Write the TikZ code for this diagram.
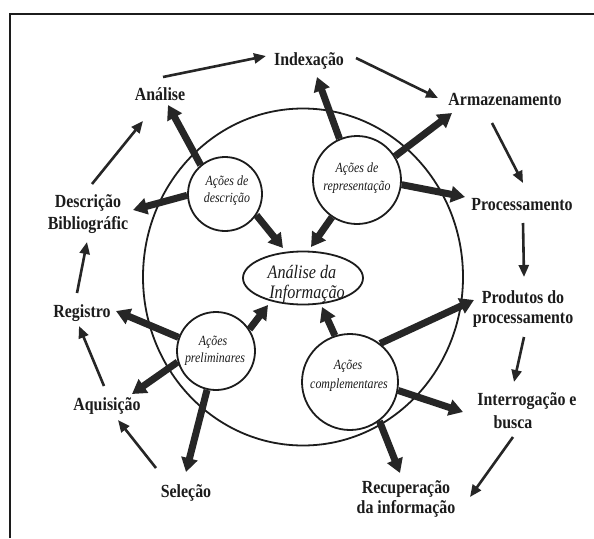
\documentclass[tikz,border=0pt]{standalone}
\usepackage{fontspec}
\setmainfont{Liberation Serif}
\newfontfamily\lblfont{Liberation Serif}[FakeStretch=0.86,BoldFont={Liberation Serif Bold}]
\newfontfamily\itlfont{Liberation Serif Italic}[FakeStretch=0.85]
\usetikzlibrary{arrows.meta,shapes.geometric}
\definecolor{ink}{HTML}{1C1C1C}
\definecolor{arr}{HTML}{262626}
\begin{document}
\begin{tikzpicture}[x=1pt,y=-1pt,
  lbl/.style={font=\lblfont\bfseries\fontsize{18.5}{21}\selectfont, inner sep=0pt, anchor=base, text=ink},
  itl/.style={font=\itlfont\fontsize{14}{17}\selectfont, inner sep=0pt, anchor=base, text=ink},
  itlbig/.style={font=\itlfont\fontsize{19}{20}\selectfont, inner sep=0pt, anchor=base, text=ink},
  ring/.style={draw=ink, line width=1.8pt, circle, inner sep=0pt},
  thinarr/.style={draw=arr, line width=2.6pt, -{Triangle[length=12pt,width=10pt]}},
  thickarr/.style={draw=arr, line width=7pt, -{Triangle[length=14pt,width=16pt]}}
]
\useasboundingbox (0,0) rectangle (594,538);
\fill[white] (0,0) rectangle (594,538);
% frame
\draw[ink, line width=2pt] (10,538) -- (10,14) -- (594,14);

% big circle
\node[draw=ink, line width=1.8pt, ellipse, minimum width=320pt, minimum height=337pt, inner sep=0pt] (big) at (303,277) {};

% inner circles
\node[ring, minimum size=74pt] (c1) at (225,194) {};
\node[ring, minimum size=88pt] (c2) at (357,180) {};
\node[ring, minimum size=78pt] (c3) at (216,351) {};
\node[ring, minimum size=96pt] (c4) at (350,382) {};
\node[draw=ink, line width=1.8pt, ellipse, minimum width=120pt, minimum height=53pt, inner sep=0pt] (ai) at (303,278) {};

% inner texts
\node[itl] (c1a) at (227,185) {Ações de};
\node[itl] (c1b) at (227,202) {descrição};
\node[itl] (c2a) at (357,172) {Ações de};
\node[itl] (c2b) at (357,190) {representação};
\node[itl] (c3a) at (213,345) {Ações};
\node[itl] (c3b) at (215,362) {preliminares};
\node[itl] (c4a) at (348,369) {Ações};
\node[itl] (c4b) at (349,388) {complementares};
\node[itlbig] (aia) at (302,278) {Análise da};
\node[itlbig] (aib) at (307,298) {Informação};

% outer labels
\node[lbl] (idx) at (309,65) {Indexação};
\node[lbl] (ana) at (160,100) {Análise};
\node[lbl] (arm) at (505,105) {Armazenamento};
\node[lbl] (desA) at (88,207) {Descrição};
\node[lbl] (desB) at (88,229) {Bibliográfic};
\node[lbl] (proc) at (522,210) {Processamento};
\node[lbl] (reg) at (82,317) {Registro};
\node[lbl] (prodA) at (523,303) {Produtos do};
\node[lbl] (prodB) at (523,323) {processamento};
\node[lbl] (aqu) at (107,410) {Aquisição};
\node[lbl] (intA) at (527,405) {Interrogação e};
\node[lbl] (intB) at (513,428) {busca};
\node[lbl] (sel) at (186,497) {Seleção};
\node[lbl] (recA) at (406,493) {Recuperação};
\node[lbl] (recB) at (406,513) {da informação};

% arrow end coordinates
\coordinate (aS) at (163,77);  \coordinate (aE) at (266,56);
\coordinate (bS) at (356,58);  \coordinate (bE) at (438,98);
\coordinate (cS) at (492,123); \coordinate (cE) at (523,183);
\coordinate (dS) at (523,223); \coordinate (dE) at (524,277);
\coordinate (eS) at (524,337); \coordinate (eE) at (514,382);
\coordinate (fS) at (513,437); \coordinate (fE) at (470,497);
\coordinate (gS) at (156,468); \coordinate (gE) at (118,420);
\coordinate (hS) at (104,386); \coordinate (hE) at (79,326);
\coordinate (iS) at (77,293);  \coordinate (iE) at (87,242);
\coordinate (jS) at (92,184);  \coordinate (jE) at (143,121);

% thin cycle arrows
\draw[thinarr] (aS) -- (aE);
\draw[thinarr] (bS) -- (bE);
\draw[thinarr] (cS) -- (cE);
\draw[thinarr] (dS) -- (dE);
\draw[thinarr] (eS) -- (eE);
\draw[thinarr] (fS) -- (fE);
\draw[thinarr] (gS) -- (gE);
\draw[thinarr] (hS) -- (hE);
\draw[thinarr] (iS) -- (iE);
\draw[thinarr] (jS) -- (jE);

% thick arrow tips
\coordinate (t1) at (168,105);
\coordinate (t2) at (133,210);
\coordinate (t3) at (283,248);
\coordinate (t4) at (317,77);
\coordinate (t5) at (452,113);
\coordinate (t6) at (465,197);
\coordinate (t7) at (311,247);
\coordinate (t8) at (268,305);
\coordinate (t9) at (116,311);
\coordinate (t10) at (132,394);
\coordinate (t11) at (186,472);
\coordinate (t12) at (322,307);
\coordinate (t13) at (474,300);
\coordinate (t14) at (463,412);
\coordinate (t15) at (400,473);

% thick arrows
\draw[thickarr] (c1.130) -- (t1);
\draw[thickarr] (c1.182) -- (t2);
\draw[thickarr] (c1.326) -- (t3);
\draw[thickarr] (c2.113) -- (t4);
\draw[thickarr] (c2.32) -- (t5);
\draw[thickarr] (c2.354) -- (t6);
\draw[thickarr] (c2.236) -- (t7);
\draw[thickarr] (c3.33) -- (t8);
\draw[thickarr] (c3.160) -- (t9);
\draw[thickarr] (c3.196) -- (t10);
\draw[thickarr] (c3.257) -- (t11);
\draw[thickarr] (c4.108) -- (t12);
\draw[thickarr] (c4.52) -- (t13);
\draw[thickarr] (c4.350) -- (t14);
\draw[thickarr] (c4.307) -- (t15);
\end{tikzpicture}
\end{document}
